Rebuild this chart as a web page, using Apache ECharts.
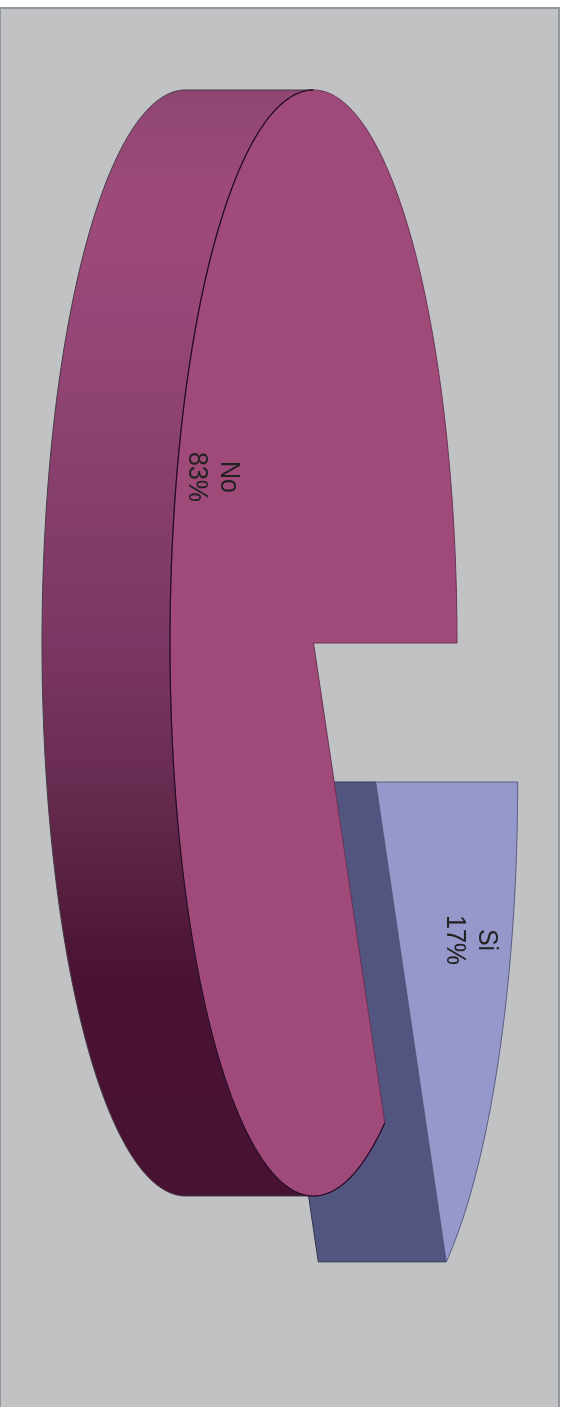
<!DOCTYPE html>
<html>
<head>
<meta charset="utf-8">
<style>html,body{margin:0;padding:0;background:#fff}#c{width:566px;height:1407px}</style>
<script src="https://cdn.jsdelivr.net/npm/echarts@6/dist/echarts.min.js"></script>
</head>
<body>
<div id="c"></div>
<script>
const categories = ['Si', 'No'];
const shareValues = [17, 83];
const topColors = ['#9697cb', '#9f4a79'];

// Layout of the tilted, exploded pie
const radiiX = [142, 143.5], RY = 553, DEPTH = 128;
const BOUNDARY_TRIM = -1 * Math.PI / 180; // perspective trim of the split between slices
const centers = [[375.7, 782], [313.5, 643]];
const labelAnchors = [[471, 940], [212.5, 477]];
const sideColor = '#52557f';
const sideStops = [
  [0, '#8f4672'], [0.1, '#9d4a7a'], [0.2, '#974777'], [0.36, '#873f6b'], [0.5, '#7b3763'],
  [0.62, '#692c52'], [0.72, '#57203f'], [0.8, '#4a1233'], [1, '#481232']
];

function rimPoints(c, rx, a0, a1, dx) {
  const n = Math.max(8, Math.ceil((a1 - a0) / 0.01)), pts = [];
  for (let i = 0; i <= n; i++) {
    const t = a0 + (a1 - a0) * i / n;
    pts.push([c[0] + rx * Math.cos(t) - dx, c[1] + RY * Math.sin(t)]);
  }
  return pts;
}

function renderSlice(params, api) {
  const i = params.dataIndex;
  const total = shareValues.reduce((a, b) => a + b, 0);
  let before = 0;
  for (let k = 0; k < i; k++) before += shareValues[k];
  const a0 = i === 0 ? 0 : before / total * 2 * Math.PI + BOUNDARY_TRIM;
  const a1 = i === 0 ? (before + api.value(1)) / total * 2 * Math.PI + BOUNDARY_TRIM
                     : (before + api.value(1)) / total * 2 * Math.PI;
  const c = centers[i], rx = radiiX[i];
  const children = [];
  const top = rimPoints(c, rx, a0, a1, 0);
  if (i === 0) {
    const e = top[top.length - 1];
    children.push({
      type: 'polygon',
      shape: { points: [[c[0], c[1]], e, [e[0] - DEPTH, e[1]], [c[0] - DEPTH, c[1]]] },
      style: { fill: sideColor, stroke: '#33364f', lineWidth: 1 }
    });
  } else {
    const front = rimPoints(c, rx, Math.PI / 2, Math.PI * 1.5, 0);
    const back = rimPoints(c, rx, Math.PI / 2, Math.PI * 1.5, DEPTH).reverse();
    children.push({
      type: 'polygon',
      shape: { points: front.concat(back) },
      style: {
        fill: new echarts.graphic.LinearGradient(0, 0, 0, 1,
          sideStops.map(s => ({ offset: s[0], color: s[1] }))),
        stroke: '#443a46', lineWidth: 1
      }
    });
  }
  children.push({
    type: 'polygon',
    shape: { points: [[c[0], c[1]]].concat(top) },
    style: { fill: topColors[i], stroke: i === 0 ? '#5a5c82' : '#6a3358', lineWidth: 1 }
  });
  if (i === 1) {
    children.push({
      type: 'polyline',
      shape: { points: rimPoints(c, rx, a0, Math.PI * 1.5, 0) },
      style: { fill: 'none', stroke: '#260a26', lineWidth: 1.2 }
    });
  }
  children.push({
    type: 'text',
    x: labelAnchors[i][0], y: labelAnchors[i][1],
    rotation: -Math.PI / 2,
    scaleX: 1, scaleY: 1.14,
    style: {
      text: categories[i] + '\n' + api.value(1) + '%',
      fill: '#222222',
      font: '25px "Liberation Sans", Arial, sans-serif',
      lineHeight: 28,
      align: 'center', verticalAlign: 'middle'
    }
  });
  return { type: 'group', children };
}

const chart = echarts.init(document.getElementById('c'), null, { renderer: 'canvas' });
chart.setOption({
  animation: false,
  backgroundColor: '#ffffff',
  graphic: [{
    type: 'rect', silent: true, z: -1,
    shape: { x: 0, y: 8, width: 559, height: 1410 },
    style: { fill: '#c0c2c4', stroke: '#93969b', lineWidth: 2 }
  }],
  series: [{
    type: 'custom',
    coordinateSystem: 'none',
    renderItem: renderSlice,
    silent: true,
    data: categories.map((n, i) => ({ name: n, value: [i, shareValues[i]] }))
  }]
});
</script>
</body>
</html>
